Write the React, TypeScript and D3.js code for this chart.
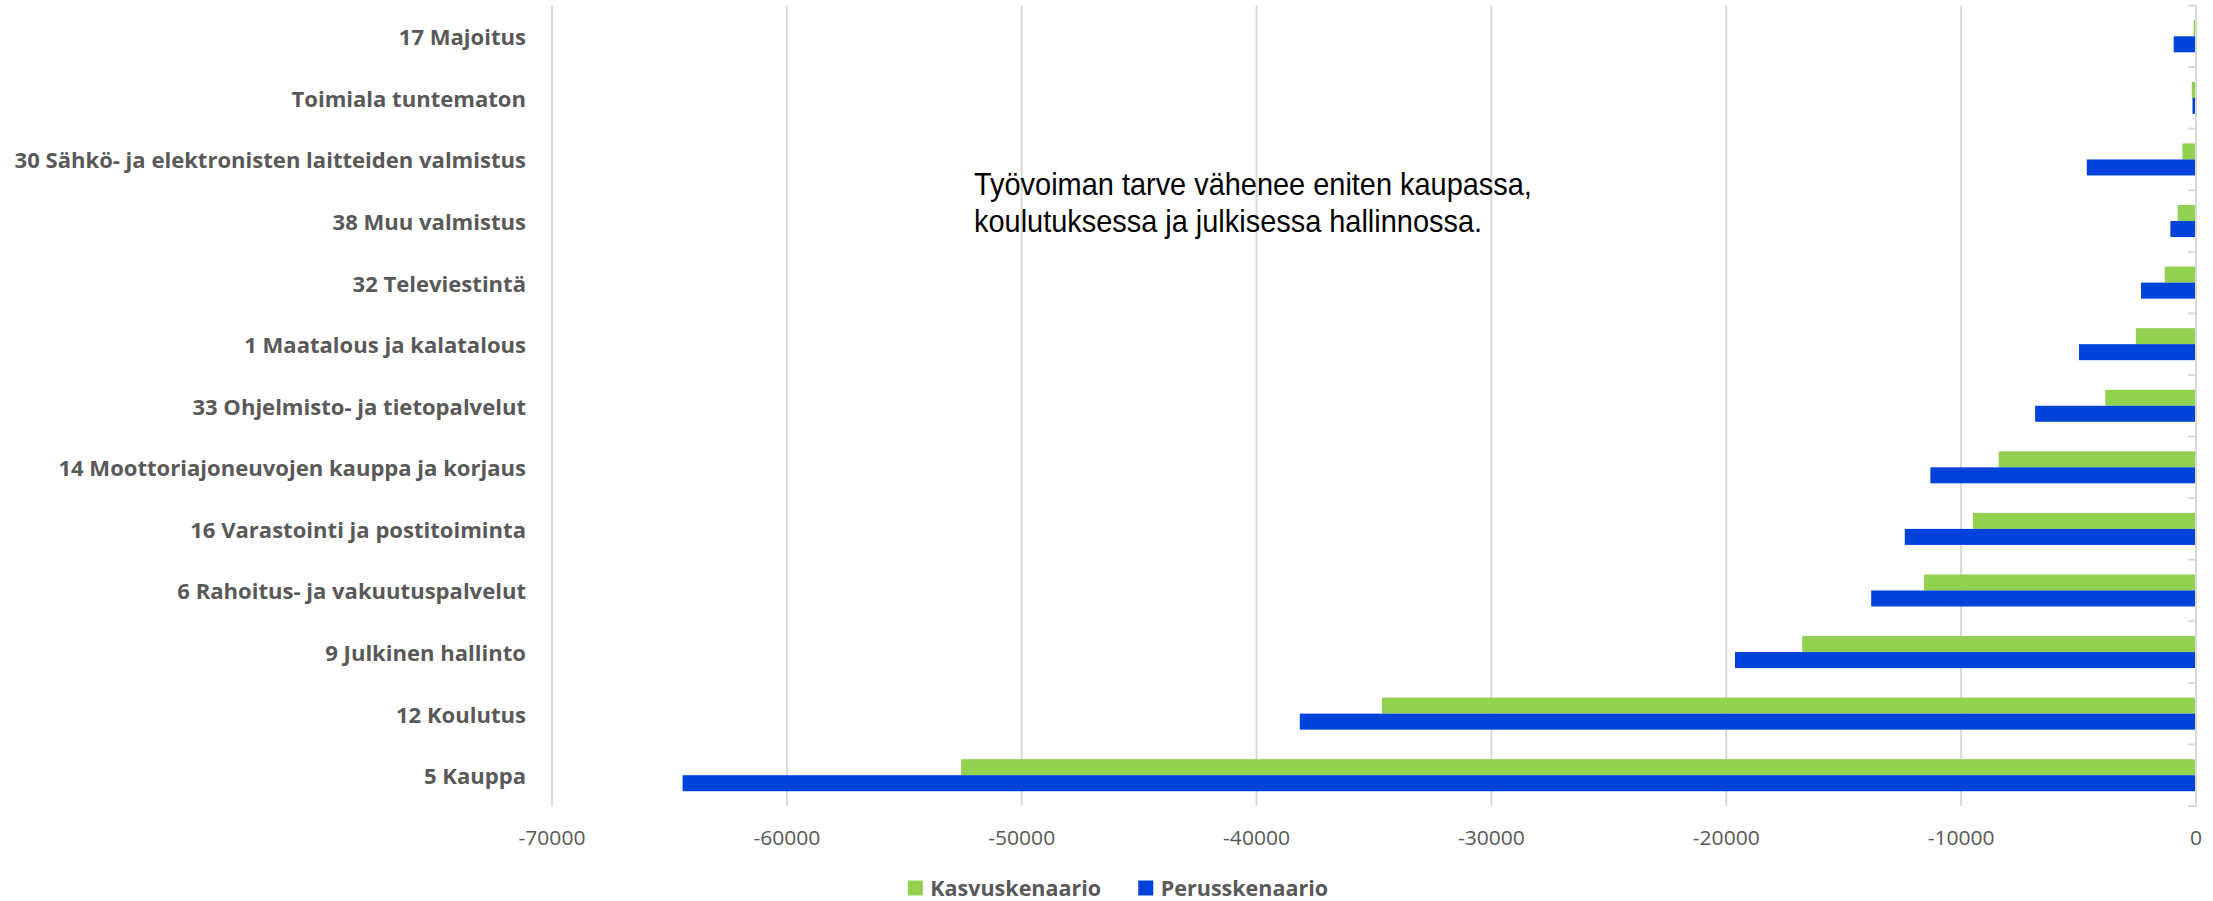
import React, { useEffect, useRef } from 'react';
import * as d3 from 'd3';

const categories = [
  '17 Majoitus',
  'Toimiala tuntematon',
  '30 Sähkö- ja elektronisten laitteiden valmistus',
  '38 Muu valmistus',
  '32 Televiestintä',
  '1 Maatalous ja kalatalous',
  '33 Ohjelmisto- ja tietopalvelut',
  '14 Moottoriajoneuvojen kauppa ja korjaus',
  '16 Varastointi ja postitoiminta',
  '6 Rahoitus- ja vakuutuspalvelut',
  '9 Julkinen hallinto',
  '12 Koulutus',
  '5 Kauppa',
];

const kasvuskenaario = [-100, -180, -580, -780, -1330, -2560, -3860, -8400, -9500, -11580, -16770, -34660, -52580];
const perusskenaario = [-950, -150, -4650, -1090, -2340, -4980, -6850, -11310, -12400, -13830, -19630, -38160, -64440];

const seriesNames = ['Kasvuskenaario', 'Perusskenaario'];
const seriesColors = ['#92D050', '#0043DA'];
const xTicks = [-70000, -60000, -50000, -40000, -30000, -20000, -10000, 0];
const annotationLines = [
  'Työvoiman tarve vähenee eniten kaupassa,',
  'koulutuksessa ja julkisessa hallinnossa.',
];

const FONT = '"Open Sans", "Noto Sans", sans-serif';
const ANN_FONT = '"Liberation Sans", Arial, sans-serif';
const GRAY = '#595959';

export default function App() {
  const ref = useRef<SVGSVGElement>(null);

  useEffect(() => {
    document.body.style.margin = '0';
    const svg = d3.select(ref.current!);
    svg.selectAll('*').remove();

    const left = 552, right = 2196, top = 5.5, bottom = 806;
    const x = d3.scaleLinear().domain([-70000, 0]).range([left, right]);
    const y = d3.scaleBand<string>().domain(categories).range([top, bottom]).paddingInner(0.48).paddingOuter(0.24);
    const sub = d3.scaleBand<string>().domain(seriesNames).range([0, y.bandwidth()]);

    // gridlines
    svg.append('g').selectAll('line').data(xTicks.filter(t => t !== 0)).join('line')
      .attr('x1', d => x(d)).attr('x2', d => x(d))
      .attr('y1', top).attr('y2', bottom)
      .attr('stroke', '#d9d9d9').attr('stroke-width', 2);

    // bars
    const series = [kasvuskenaario, perusskenaario];
    series.forEach((vals, si) => {
      svg.append('g').selectAll('rect').data(categories).join('rect')
        .attr('x', (_, i) => x(Math.min(0, vals[i])))
        .attr('width', (_, i) => Math.abs(x(vals[i]) - x(0)))
        .attr('y', d => (y(d) as number) + (sub(seriesNames[si]) as number))
        .attr('height', sub.bandwidth())
        .attr('fill', seriesColors[si]);
    });

    // axis line at zero with category ticks
    const step = y.step();
    const boundaries = d3.range(categories.length + 1).map(i => top + i * step);
    svg.append('line').attr('x1', x(0)).attr('x2', x(0)).attr('y1', top).attr('y2', bottom)
      .attr('stroke', '#d9d9d9').attr('stroke-width', 2);
    svg.append('g').selectAll('line').data(boundaries).join('line')
      .attr('x1', x(0) - 8).attr('x2', x(0))
      .attr('y1', d => d).attr('y2', d => d)
      .attr('stroke', '#d9d9d9').attr('stroke-width', 2);

    const condense = (node: SVGTextContentElement, target: number) => target / node.getComputedTextLength();

    // category labels
    const catTexts = svg.append('g').selectAll('text').data(categories).join('text')
      .text(d => d)
      .attr('text-anchor', 'end')
      .attr('dominant-baseline', 'central')
      .attr('font-family', FONT).attr('font-weight', 700).attr('font-size', 22)
      .attr('fill', GRAY);
    const kCat = condense(catTexts.nodes()[2], 512);
    catTexts.attr('transform', d => `translate(526,${(y(d) as number) + y.bandwidth() / 2}) scale(${kCat},1)`);

    // x tick labels
    const tickTexts = svg.append('g').selectAll('text').data(xTicks).join('text')
      .text(d => String(d))
      .attr('text-anchor', 'middle')
      .attr('dominant-baseline', 'central')
      .attr('font-family', FONT).attr('font-size', 20.5)
      .attr('fill', GRAY);
    const kTick = condense(tickTexts.nodes()[0], 67);
    tickTexts.attr('transform', d => `translate(${x(d)},837) scale(${kTick},1)`);

    // annotation (two lines)
    const annTexts = svg.append('g').selectAll('text').data(annotationLines).join('text')
      .text(d => d)
      .attr('font-family', ANN_FONT).attr('font-size', 30.5)
      .attr('fill', '#000');
    const kAnn = condense(annTexts.nodes()[0], 558);
    annTexts.attr('transform', (_, i) => `translate(974,${195 + i * 37}) scale(${kAnn},1)`);

    // legend
    const legG = svg.append('g');
    const legTexts = legG.selectAll('text').data(seriesNames).join('text')
      .text(d => d)
      .attr('dominant-baseline', 'central')
      .attr('font-family', FONT).attr('font-weight', 700).attr('font-size', 20.5)
      .attr('fill', GRAY);
    const kLeg = condense(legTexts.nodes()[0], 171);
    const sq = 15, gapText = 7.5, gapItem = 37;
    const widths = legTexts.nodes().map(n => n.getComputedTextLength() * kLeg);
    const total = widths.reduce((a, b) => a + b, 0) + seriesNames.length * (sq + gapText) + gapItem * (seriesNames.length - 1);
    let cx = 1118 - total / 2;
    const ly = 888;
    seriesNames.forEach((name, i) => {
      legG.append('rect').attr('x', cx).attr('y', ly - sq / 2).attr('width', sq).attr('height', sq).attr('fill', seriesColors[i]);
      d3.select(legTexts.nodes()[i]).attr('transform', `translate(${cx + sq + gapText},${ly}) scale(${kLeg},1)`);
      cx += sq + gapText + widths[i] + gapItem;
    });
  }, []);

  return <svg ref={ref} width={2213} height={901} style={{ display: 'block', background: '#fff' }} />;
}
